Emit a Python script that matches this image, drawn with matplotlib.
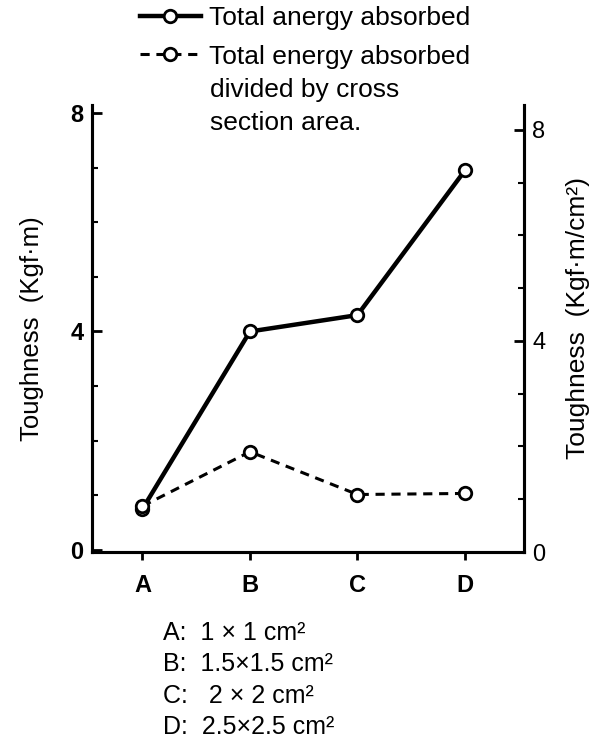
import matplotlib.pyplot as plt
from matplotlib.ticker import MultipleLocator

plt.rcParams['font.family'] = ['Liberation Sans', 'DejaVu Sans']

# specimen sizes and toughness values
sizes = ['A', 'B', 'C', 'D']
total_energy = [0.75, 4.0, 4.3, 6.95]          # Kgf.m, left axis
energy_per_area = [0.87, 1.9, 1.09, 1.11]      # Kgf.m/cm2, right axis
size_notes = ['A:  1 × 1 cm²', 'B:  1.5×1.5 cm²', 'C:   2 × 2 cm²', 'D:  2.5×2.5 cm²']

fig = plt.figure(figsize=(6.01, 7.44), dpi=100)
ax = fig.add_axes([0.153, 0.258, 0.719, 0.601])
ax2 = ax.twinx()

x = range(len(sizes))
l1, = ax.plot(x, total_energy, '-', color='black', lw=3.2, marker='o', ms=9,
              mfc='white', mec='black', mew=2, zorder=3)
l2, = ax2.plot(x, energy_per_area, '--', color='black', lw=2.2, dashes=(3, 2.2),
               marker='o', ms=9, mfc='white', mec='black', mew=2, zorder=3)

ax.set_xlim(-0.47, 3.55)
ax.set_ylim(-0.04, 8.15)
ax2.set_ylim(0.06, 8.47)

ax.set_xticks(list(x))
ax.set_xticklabels(sizes, fontsize=17, fontweight='bold')
ax.tick_params(axis='x', direction='out', length=6, width=2, pad=10)

ax.set_yticks([0, 4, 8])
ax.yaxis.set_minor_locator(MultipleLocator(1))
ax.tick_params(axis='y', which='major', direction='in', length=7, width=2,
               labelsize=17, pad=6)
ax.tick_params(axis='y', which='minor', direction='in', length=4, width=1.5)
for t in ax.get_yticklabels():
    t.set_fontweight('bold')

ax2.set_yticks([0, 4, 8])
ax2.yaxis.set_minor_locator(MultipleLocator(1))
ax2.tick_params(axis='y', which='major', direction='in', length=7, width=2,
                labelsize=17, pad=6)
ax2.tick_params(axis='y', which='minor', direction='in', length=4, width=1.5)

for a in (ax, ax2):
    a.spines['top'].set_visible(False)
    for s in ('left', 'right', 'bottom'):
        a.spines[s].set_linewidth(2.2)

ax.set_ylabel('Toughness  (Kgf·m)', fontsize=18.5)
ax.yaxis.set_label_coords(-0.112, 0.5)
ax2.set_ylabel('Toughness  (Kgf·m/cm²)', fontsize=19)
ax2.yaxis.set_label_coords(1.097, 0.523)

fig.legend([l1, l2], ['Total anergy absorbed', 'Total energy absorbed'],
           loc='upper left', bbox_to_anchor=(0.202, 1.017), frameon=False,
           fontsize=19, handlelength=2.3, handletextpad=0.33,
           labelspacing=0.56, borderpad=0.2)
fig.text(0.35, 0.895, 'divided by cross\nsection area.', fontsize=19,
         va='top', ha='left', linespacing=1.45)

fig.text(0.271, 0.165, '\n'.join(size_notes), fontsize=18, va='top',
         ha='left', linespacing=1.38)

fig.savefig('out.png', dpi=100)
